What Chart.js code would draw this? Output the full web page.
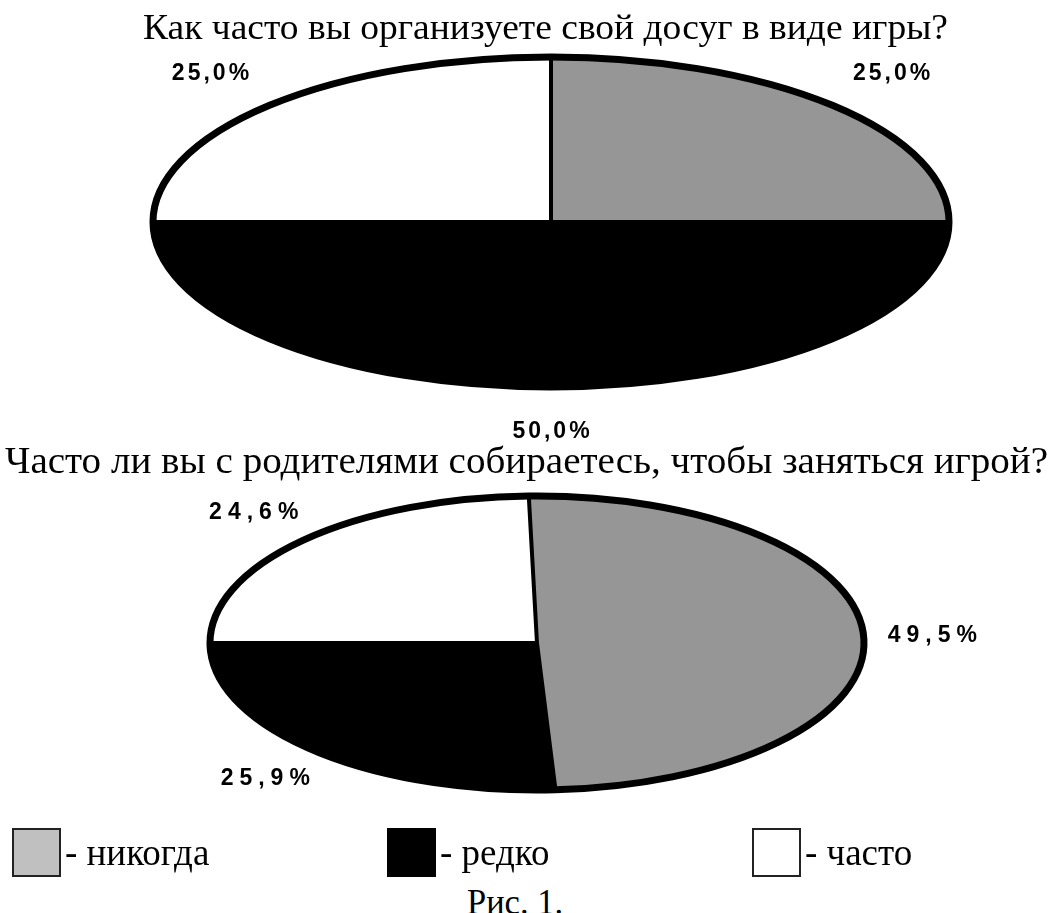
<!DOCTYPE html>
<html lang="ru">
<head>
<meta charset="utf-8">
<script src="https://cdn.jsdelivr.net/npm/chart.js@4.4.1/dist/chart.umd.min.js"></script>
<style>
  html, body { margin: 0; padding: 0; background: #fff; }
  body {
    width: 1052px; height: 913px; position: relative; overflow: hidden;
    font-family: "Liberation Serif", "Times New Roman", serif; color: #000;
  }
  .title { position: absolute; white-space: nowrap; line-height: 1; z-index: 2; transform-origin: 0 0; }
  canvas { position: absolute; }
  .swatch { position: absolute; top: 828px; width: 45px; height: 45px; border: 2px solid #222; }
  .legend-text { position: absolute; top: 834px; font-size: 37px; line-height: 1; white-space: nowrap; }
</style>
</head>
<body>
<div class="title" id="title1" style="top:10px; font-size:35px;"></div>
<canvas id="chart-top"></canvas>
<div class="title" id="title2" style="top:442px; font-size:37px;"></div>
<canvas id="chart-bottom"></canvas>
<div id="legend"></div>
<div class="title" id="caption" style="top:884px; font-size:36px;">Рис. 1.</div>

<script>
//
// DATA
//

const categories = ["никогда", "редко", "часто"];
const sliceColors = ["#969696", "#000000", "#ffffff"];
const legendColors = ["#c0c0c0", "#000000", "#ffffff"];

const leisureTitle = "Как часто вы организуете свой досуг в виде игры?";
const leisureValues = [25.0, 50.0, 25.0];

const parentsTitle = "Часто ли вы с родителями собираетесь, чтобы заняться игрой?";
const parentsValues = [49.5, 25.9, 24.6];

//
// HELPER FUNCTIONS
//

// squash the round pie into an ellipse and draw outline + percent labels
const ellipsePie = {
  id: "ellipsePie",
  beforeDatasetsDraw(chart, args, opts) {
    const arc = chart.getDatasetMeta(0).data[0];
    const ctx = chart.ctx;
    ctx.save();
    ctx.translate(arc.x, arc.y);
    ctx.scale(opts.stretch, 1);
    ctx.translate(-arc.x, -arc.y);
  },
  afterDatasetsDraw(chart, args, opts) {
    const ctx = chart.ctx;
    const arcs = chart.getDatasetMeta(0).data;

    // slice dividers (path built in squashed space, stroked unsquashed)
    ctx.beginPath();
    arcs.forEach((a) => {
      ctx.moveTo(a.x, a.y);
      ctx.lineTo(a.x + a.outerRadius * Math.cos(a.startAngle), a.y + a.outerRadius * Math.sin(a.startAngle));
    });
    ctx.restore();
    ctx.lineWidth = 4;
    ctx.strokeStyle = "#000";
    ctx.stroke();

    // outer edge
    ctx.save();
    const a0 = arcs[0];
    ctx.translate(a0.x, a0.y);
    ctx.scale(opts.stretch, 1);
    ctx.translate(-a0.x, -a0.y);
    ctx.beginPath();
    arcs.forEach((a) => ctx.arc(a.x, a.y, a.outerRadius, a.startAngle, a.endAngle));
    ctx.closePath();
    ctx.restore();
    ctx.lineWidth = 7;
    ctx.lineJoin = "round";
    ctx.stroke();
  },
  afterDraw(chart, args, opts) {
    const ctx = chart.ctx;
    const values = chart.data.datasets[0].data;
    ctx.save();
    ctx.font = "bold 23px 'Liberation Sans', Arial, sans-serif";
    ctx.letterSpacing = opts.spacing + "px";
    ctx.fillStyle = "#000";
    ctx.textAlign = "center";
    ctx.textBaseline = "middle";
    chart.getDatasetMeta(0).data.forEach((a, i) => {
      const mid = (a.startAngle + a.endAngle) / 2;
      const x = a.x + 1.21 * a.outerRadius * opts.stretch * Math.cos(mid);
      const y = a.y + 1.27 * a.outerRadius * Math.sin(mid);
      const txt = values[i].toFixed(1).replace(".", ",") + "%";
      ctx.fillText(txt, x + opts.spacing / 2, y);
    });
    ctx.restore();
  },
};

function paintPie(canvasId, values, cx, cy, rx, ry, labelSpacing) {
  const pad = 70;
  const w = 1052;
  const h = 2 * ry + 2 * pad;
  const canvas = document.getElementById(canvasId);
  canvas.width = w;
  canvas.height = h;
  canvas.style.left = cx - w / 2 + "px";
  canvas.style.top = cy - h / 2 + "px";

  const total = values.reduce((s, v) => s + v, 0);
  // black/white boundary sits at 9 o'clock as in the original
  const rotation = 270 - ((values[0] + values[1]) / total) * 360;

  return new Chart(canvas, {
    type: "pie",
    data: {
      labels: categories,
      datasets: [
        {
          data: values,
          backgroundColor: sliceColors,
          borderWidth: 0,
          hoverOffset: 0,
        },
      ],
    },
    options: {
      responsive: false,
      devicePixelRatio: 1,
      animation: false,
      events: [],
      rotation: rotation,
      radius: ry,
      layout: { padding: pad },
      plugins: {
        legend: { display: false },
        tooltip: { enabled: false },
        ellipsePie: { stretch: rx / ry, spacing: labelSpacing },
      },
    },
    plugins: [ellipsePie],
  });
}

// place a text line so it spans [left, right]
function fitTitle(id, text, left, right) {
  const el = document.getElementById(id);
  if (text) el.textContent = text;
  const w = el.getBoundingClientRect().width;
  el.style.left = left + "px";
  el.style.transform = "scaleX(" + (right - left) / w + ")";
}

function paintLegend() {
  const legend = document.getElementById("legend");
  const lefts = [12, 387, 752];
  categories.forEach((name, i) => {
    const sw = document.createElement("div");
    sw.className = "swatch";
    sw.style.left = lefts[i] + "px";
    sw.style.background = legendColors[i];
    if (legendColors[i] === "#000000") sw.style.borderColor = "#000";
    legend.appendChild(sw);

    const txt = document.createElement("div");
    txt.className = "legend-text";
    txt.style.left = lefts[i] + 53 + "px";
    txt.textContent = "- " + name;
    legend.appendChild(txt);
  });
}

//
// PAINT
//

fitTitle("title1", leisureTitle, 143, 948);
fitTitle("title2", parentsTitle, 5, 1048);
fitTitle("caption", null, 467, 563);

paintPie("chart-top", leisureValues, 551, 222, 398, 165, 3);
paintPie("chart-bottom", parentsValues, 537, 643, 327, 147, 6);
paintLegend();
</script>
</body>
</html>
